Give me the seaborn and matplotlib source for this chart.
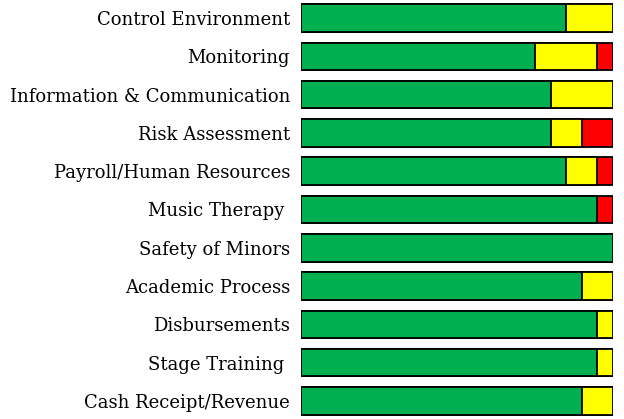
import matplotlib
matplotlib.use("Agg")
import matplotlib.pyplot as plt
import seaborn as sns
import numpy as np
import pandas as pd

# Data (share of each rating per area)
areas = ['Control Environment', 'Monitoring', 'Information & Communication',
         'Risk Assessment', 'Payroll/Human Resources', 'Music Therapy ',
         'Safety of Minors', 'Academic Process', 'Disbursements',
         'Stage Training ', 'Cash Receipt/Revenue']
green = [0.85, 0.75, 0.80, 0.80, 0.85, 0.95, 1.00, 0.90, 0.95, 0.95, 0.90]
yellow = [0.15, 0.20, 0.20, 0.10, 0.10, 0.00, 0.00, 0.10, 0.05, 0.05, 0.10]
red = [0.00, 0.05, 0.00, 0.10, 0.05, 0.05, 0.00, 0.00, 0.00, 0.00, 0.00]

df = pd.DataFrame({'area': areas, 'green': green, 'yellow': yellow, 'red': red})
df['cum_yellow'] = df['green'] + df['yellow']
df['cum_red'] = df['cum_yellow'] + df['red']

sns.set_style('white')
plt.rcParams['font.family'] = ['DejaVu Serif']

fig = plt.figure(figsize=(6.24, 4.19), dpi=100)
ax = fig.add_axes([301 / 624, -1 / 419, 312 / 624, 421 / 419])

# stacked: draw cumulative widths from the back
layers = [('cum_red', '#FF0000'), ('cum_yellow', '#FFFF00'), ('green', '#00B050')]
for col, color in layers:
    sns.barplot(data=df, y='area', x=col, orient='h', color=color, width=0.72,
                edgecolor='black', linewidth=1.3, saturation=1, ax=ax)

ax.set_xlim(0, 1.0)
ax.set_ylim(len(areas) - 0.5, -0.5)
ax.set_xlabel('')
ax.set_ylabel('')
ax.set_xticks([])
ax.tick_params(axis='y', length=0, pad=8, labelsize=13, labelcolor='black')
for s in ax.spines.values():
    s.set_visible(False)

fig.savefig('out.png', dpi=100)
